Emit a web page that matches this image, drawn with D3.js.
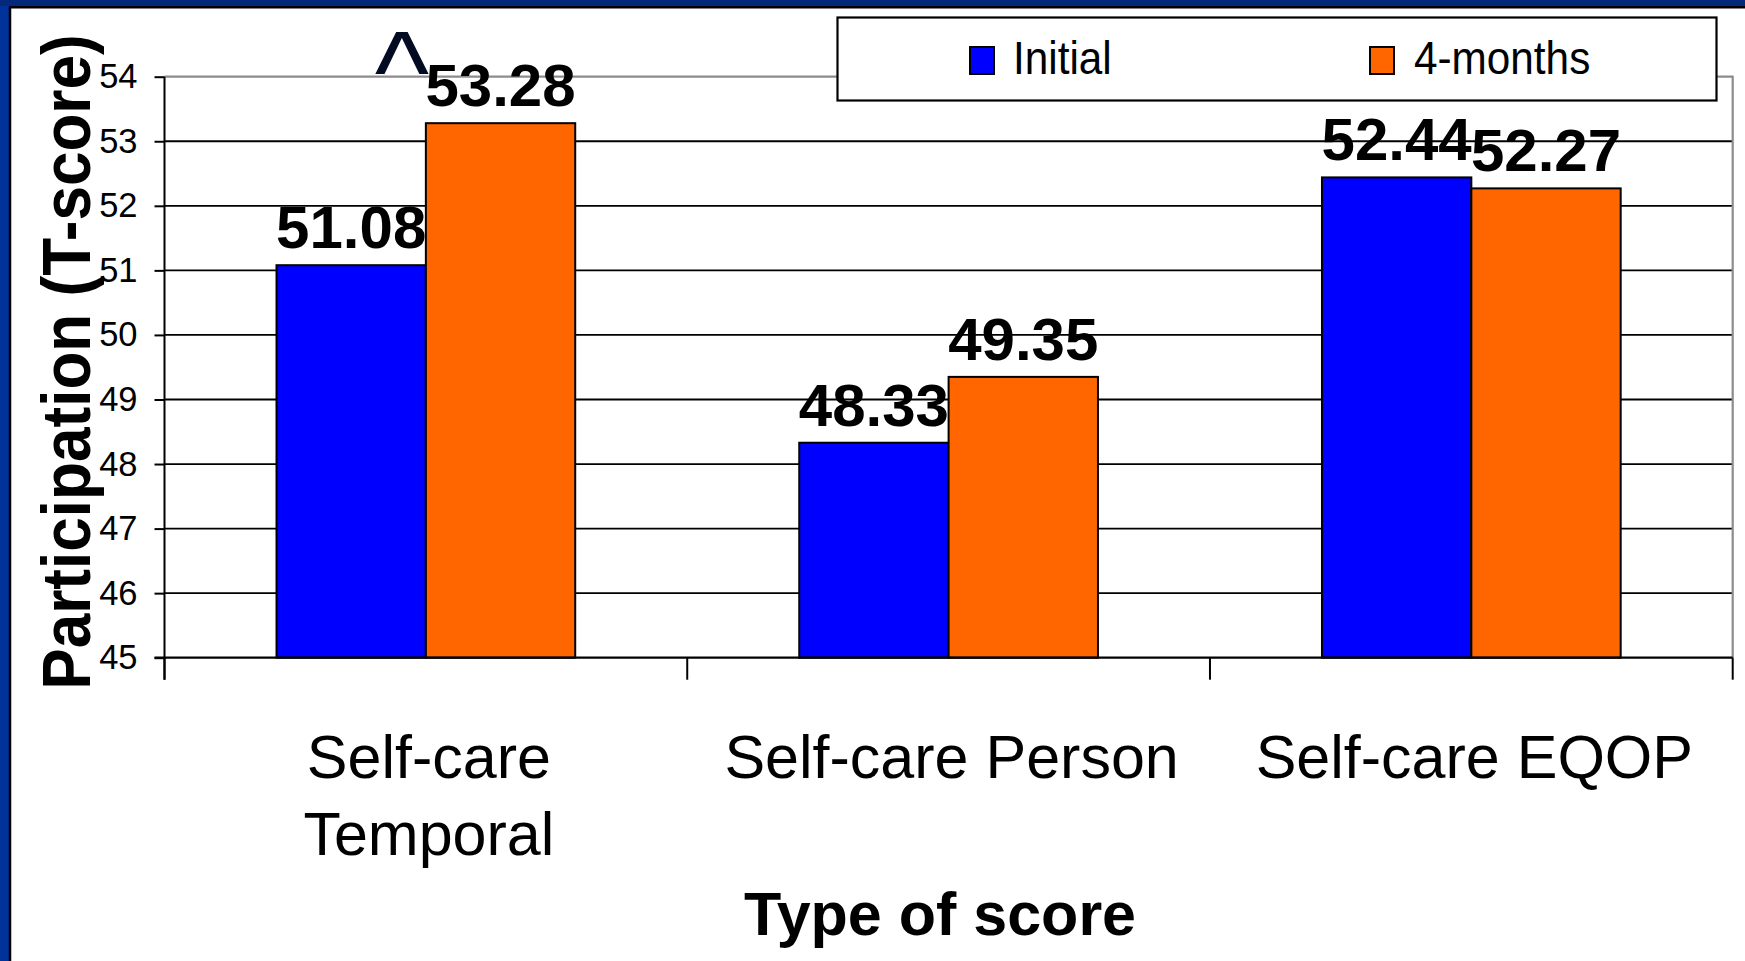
<!DOCTYPE html>
<html>
<head>
<meta charset="utf-8">
<script src="https://cdn.jsdelivr.net/npm/d3@7"></script>
<style>
  html, body { margin: 0; padding: 0; background: #ffffff; }
  svg { display: block; }
  text { font-family: "Liberation Sans", Arial, Helvetica, sans-serif; }
</style>
</head>
<body>
<svg id="chart" width="1745" height="961"></svg>
<script>
// Participation T-scores by type of score, initial vs. 4-month follow-up
const categories = ["Self-care Temporal", "Self-care Person", "Self-care EQOP"];
const seriesNames = ["Initial", "4-months"];
const initialValues = [51.08, 48.33, 52.44];
const fourMonthValues = [53.28, 49.35, 52.27];
const yTicks = [45, 46, 47, 48, 49, 50, 51, 52, 53, 54];
const seriesColors = ["#0000ff", "#ff6600"];
// significance marker shown above the first 4-month bar
const markers = [{ category: "Self-care Temporal", symbol: "^" }];

const W = 1745, H = 961;
const svg = d3.select("#chart");

// slide frame: blue border on the left and top, white panel inside
svg.append("rect").attr("x", 0).attr("y", 0).attr("width", W).attr("height", H).attr("fill", "#ffffff");
svg.append("rect").attr("x", 0).attr("y", 0).attr("width", 9).attr("height", H).attr("fill", "#00339a");
svg.append("rect").attr("x", 0).attr("y", 0).attr("width", W).attr("height", 6).attr("fill", "#04297a");
svg.append("line").attr("x1", 10).attr("x2", 10).attr("y1", 7).attr("y2", H)
  .attr("stroke", "#000").attr("stroke-width", 2.5);
svg.append("line").attr("x1", 9).attr("x2", W).attr("y1", 7.2).attr("y2", 7.2)
  .attr("stroke", "#000").attr("stroke-width", 2.5);

// plot area
const plot = { left: 164.5, right: 1732.7, top: 76.7, bottom: 657.7 };

const y = d3.scaleLinear().domain([45, 54]).range([plot.bottom, plot.top]);
const x0 = d3.scaleBand().domain(categories).range([plot.left, plot.right]).padding(0);
const x1 = d3.scaleBand().domain(seriesNames).range([0, x0.bandwidth()])
  .paddingInner(0).paddingOuter(0.75);

const rows = categories.map((c, i) => ({
  category: c,
  values: [
    { series: seriesNames[0], value: initialValues[i] },
    { series: seriesNames[1], value: fourMonthValues[i] }
  ]
}));

// horizontal gridlines (the top one is the grey plot-area border)
const g = svg.append("g");
g.selectAll("line.grid")
  .data(yTicks.filter(t => t > 45))
  .join("line")
  .attr("class", "grid")
  .attr("x1", plot.left).attr("x2", plot.right)
  .attr("y1", d => y(d)).attr("y2", d => y(d))
  .attr("stroke", d => d === 54 ? "#8c8c8c" : "#000")
  .attr("stroke-width", d => d === 54 ? 2.2 : 1.8);

// grey right border of the plot area
g.append("line")
  .attr("x1", plot.right).attr("x2", plot.right)
  .attr("y1", y(54) - 1).attr("y2", y(45))
  .attr("stroke", "#8c8c8c").attr("stroke-width", 2.2);

// bars
const groups = g.selectAll("g.cat")
  .data(rows)
  .join("g")
  .attr("class", "cat")
  .attr("transform", d => `translate(${x0(d.category)},0)`);

groups.selectAll("rect")
  .data(d => d.values)
  .join("rect")
  .attr("x", d => x1(d.series))
  .attr("y", d => y(d.value))
  .attr("width", x1.bandwidth())
  .attr("height", d => y(45) - y(d.value))
  .attr("fill", (d, i) => seriesColors[i])
  .attr("stroke", "#000")
  .attr("stroke-width", 2);

// value labels
groups.selectAll("text.val")
  .data(d => d.values)
  .join("text")
  .attr("class", "val")
  .attr("x", d => x1(d.series) + x1.bandwidth() / 2)
  .attr("y", d => y(d.value) - 17)
  .attr("text-anchor", "middle")
  .attr("font-size", 60)
  .attr("font-weight", "bold")
  .attr("fill", "#000")
  .text(d => d.value.toFixed(2));

// significance marker
markers.forEach(m => {
  const barLeft = x0(m.category) + x1(seriesNames[1]);
  svg.append("text")
    .attr("x", barLeft - 24)
    .attr("y", 112)
    .attr("text-anchor", "middle")
    .attr("font-size", 116)
    .attr("fill", "#020b22")
    .text(m.symbol);
});

// y axis
const yAxis = d3.axisLeft(y).tickValues(yTicks).tickSize(10).tickPadding(17).tickFormat(d3.format("d"));
const ya = svg.append("g").attr("transform", `translate(${plot.left},0)`).call(yAxis);
ya.select(".domain").remove();
ya.selectAll(".tick line").attr("stroke", "#000").attr("stroke-width", 2);
ya.selectAll(".tick text")
  .attr("font-size", 34.5)
  .attr("fill", "#000")
  .attr("font-family", "'Liberation Sans', Arial, sans-serif");
svg.append("line")
  .attr("x1", plot.left).attr("x2", plot.left)
  .attr("y1", plot.top).attr("y2", plot.bottom + 22)
  .attr("stroke", "#000").attr("stroke-width", 2);

// x axis baseline and category divider ticks
svg.append("line")
  .attr("x1", plot.left - 10).attr("x2", plot.right)
  .attr("y1", y(45)).attr("y2", y(45))
  .attr("stroke", "#000").attr("stroke-width", 2.2);
const dividers = categories.map(c => x0(c) + x0.bandwidth()).concat([x0(categories[0])]);
svg.selectAll("line.div")
  .data(dividers)
  .join("line")
  .attr("class", "div")
  .attr("x1", d => d).attr("x2", d => d)
  .attr("y1", y(45)).attr("y2", y(45) + 22)
  .attr("stroke", "#000").attr("stroke-width", 2);

// category labels, wrapped to the band width
const catLabels = svg.selectAll("text.cat")
  .data(categories)
  .join("text")
  .attr("class", "cat")
  .attr("x", d => x0(d) + x0.bandwidth() / 2 + 3)
  .attr("y", 778)
  .attr("text-anchor", "middle")
  .attr("font-size", 61)
  .attr("fill", "#000");

catLabels.each(function (d) {
  const t = d3.select(this);
  const words = d.split(" ");
  let line = [];
  let lineNo = 0;
  let tspan = t.append("tspan").attr("x", t.attr("x")).attr("dy", 0);
  words.forEach(w => {
    line.push(w);
    tspan.text(line.join(" "));
    if (tspan.node().getComputedTextLength() > 500 && line.length > 1) {
      line.pop();
      tspan.text(line.join(" "));
      line = [w];
      lineNo++;
      tspan = t.append("tspan").attr("x", t.attr("x")).attr("dy", 77).text(w);
    }
  });
});

// axis titles
svg.append("text")
  .attr("x", 940).attr("y", 935)
  .attr("text-anchor", "middle")
  .attr("font-size", 61)
  .attr("font-weight", "bold")
  .attr("fill", "#000")
  .text("Type of score");

svg.append("text")
  .attr("transform", "translate(90,362) rotate(-90) scale(0.9,1)")
  .attr("text-anchor", "middle")
  .attr("font-size", 69)
  .attr("font-weight", "bold")
  .attr("fill", "#000")
  .text("Participation (T-score)");

// legend
const legend = svg.append("g");
legend.append("rect")
  .attr("x", 837.5).attr("y", 17.5)
  .attr("width", 879).attr("height", 83)
  .attr("fill", "#fff").attr("stroke", "#000").attr("stroke-width", 2.2);
const legendItems = [{ sx: 970, tx: 1013 }, { sx: 1370, tx: 1414 }];
seriesNames.forEach((name, i) => {
  legend.append("rect")
    .attr("x", legendItems[i].sx).attr("y", 47)
    .attr("width", 24).attr("height", 27)
    .attr("fill", seriesColors[i]).attr("stroke", "#000").attr("stroke-width", 2);
  legend.append("text")
    .attr("transform", `translate(${legendItems[i].tx},74) scale(0.9,1)`)
    .attr("font-size", 47)
    .attr("fill", "#000")
    .text(name);
});
</script>
</body>
</html>
